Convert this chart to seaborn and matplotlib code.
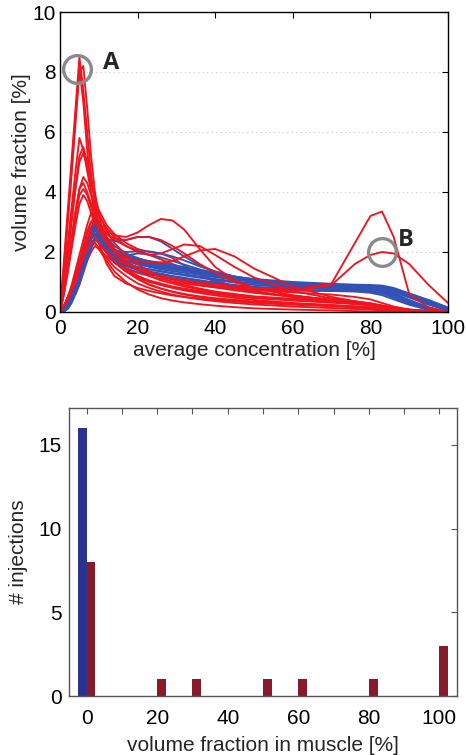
import numpy as np
import pandas as pd
import matplotlib
matplotlib.use("Agg")
import matplotlib.pyplot as plt
import seaborn as sns

sns.set_theme(style="white")
plt.rcParams["font.family"] = ["Liberation Sans", "DejaVu Sans"]

# ---- concentration histograms (volume fraction vs. average concentration) ----
conc = [0, 1, 2, 3, 4, 5, 6, 7, 8, 9, 10, 12, 14, 17, 20, 23, 26, 29, 32, 36,
        40, 45, 50, 60, 70, 76, 80, 83, 86, 90, 95, 100]

# muscle injections, drawn below the fat curves
muscle_low = [
    [0, 1.7, 3.4, 5.1, 6.8, 8.5, 7.4, 6.0, 4.6, 3.6, 2.9, 2.1, 1.7, 1.4, 1.2, 1.05, 0.95, 0.85, 0.78, 0.7, 0.62, 0.55, 0.48, 0.4, 0.33, 0.28, 0.24, 0.18, 0.12, 0.06, 0.02, 0],
    [0, 1.4, 3.0, 4.6, 6.3, 8.0, 8.2, 6.8, 5.2, 4.0, 3.2, 2.3, 1.8, 1.4, 1.1, 0.9, 0.78, 0.68, 0.6, 0.52, 0.46, 0.4, 0.35, 0.28, 0.22, 0.18, 0.15, 0.1, 0.07, 0.03, 0.01, 0],
    [0, 1.5, 3.1, 4.8, 6.5, 8.1, 7.0, 5.4, 4.0, 3.0, 2.3, 1.6, 1.2, 0.95, 0.8, 0.7, 0.62, 0.55, 0.5, 0.45, 0.4, 0.35, 0.3, 0.24, 0.19, 0.15, 0.12, 0.08, 0.05, 0.02, 0, 0],
    [0, 1.1, 2.3, 3.5, 4.7, 5.8, 5.4, 4.7, 4.0, 3.4, 2.9, 2.3, 1.9, 1.6, 1.4, 1.2, 1.05, 0.95, 0.85, 0.75, 0.65, 0.57, 0.5, 0.42, 0.35, 0.3, 0.25, 0.19, 0.13, 0.07, 0.02, 0],
    [0, 0.6, 1.3, 2.1, 2.9, 3.6, 3.9, 3.7, 3.3, 2.9, 2.5, 2.0, 1.65, 1.35, 1.15, 1.0, 0.9, 0.82, 0.75, 0.67, 0.6, 0.52, 0.46, 0.38, 0.31, 0.26, 0.22, 0.16, 0.1, 0.05, 0.02, 0],
    [0, 0.1, 0.3, 0.5, 0.8, 1.1, 1.5, 1.9, 2.2, 2.3, 2.15, 1.8, 1.5, 1.2, 0.95, 0.8, 0.68, 0.58, 0.5, 0.42, 0.36, 0.3, 0.25, 0.18, 0.13, 0.1, 0.08, 0.05, 0.03, 0.01, 0, 0],
    [0, 0.05, 0.2, 0.4, 0.6, 0.9, 1.3, 1.7, 2.0, 2.2, 2.1, 1.7, 1.35, 1.0, 0.75, 0.58, 0.46, 0.38, 0.32, 0.26, 0.21, 0.16, 0.12, 0.08, 0.05, 0.03, 0.02, 0.01, 0, 0, 0, 0],
    [0, 0.1, 0.4, 0.7, 1.0, 1.4, 1.8, 2.2, 2.5, 2.6, 2.5, 2.1, 1.8, 1.45, 1.2, 1.02, 0.9, 0.8, 0.72, 0.63, 0.55, 0.47, 0.4, 0.3, 0.23, 0.18, 0.15, 0.1, 0.06, 0.03, 0.01, 0],
    [0, 0.1, 0.3, 0.6, 0.9, 1.3, 1.7, 2.1, 2.35, 2.4, 2.3, 1.95, 1.65, 1.35, 1.1, 0.92, 0.78, 0.67, 0.58, 0.5, 0.44, 0.38, 0.33, 0.27, 0.22, 0.18, 0.15, 0.11, 0.07, 0.03, 0.01, 0],
    [0, 0.8, 1.9, 3.0, 4.1, 5.0, 5.3, 4.9, 4.3, 3.8, 3.4, 2.9, 2.6, 2.3, 2.1, 2.0, 1.95, 1.8, 1.55, 1.25, 1.0, 0.8, 0.65, 0.5, 0.38, 0.3, 0.25, 0.18, 0.12, 0.06, 0.02, 0],
    [0, 0.7, 1.6, 2.5, 3.4, 4.1, 4.3, 4.0, 3.6, 3.2, 2.9, 2.6, 2.4, 2.2, 2.05, 1.9, 1.75, 1.6, 1.45, 1.25, 1.05, 0.85, 0.7, 0.5, 0.36, 0.28, 0.22, 0.16, 0.1, 0.05, 0.02, 0],
]

# fat injections
fat_curves = [
    [0, 0.05, 0.2, 0.5, 0.9, 1.3, 1.7, 2.2, 2.6, 2.9, 2.8, 2.3, 2.0, 1.8, 1.7, 1.62, 1.55, 1.48, 1.42, 1.33, 1.25, 1.15, 1.07, 0.95, 0.88, 0.85, 0.82, 0.75, 0.6, 0.35, 0.12, 0],
    [0, 0.03, 0.15, 0.4, 0.8, 1.2, 1.7, 2.3, 2.8, 3.1, 2.95, 2.4, 2.05, 1.8, 1.65, 1.55, 1.48, 1.42, 1.37, 1.3, 1.22, 1.12, 1.03, 0.92, 0.86, 0.84, 0.82, 0.78, 0.7, 0.5, 0.25, 0.06],
    [0, 0.1, 0.35, 0.7, 1.1, 1.5, 1.9, 2.3, 2.6, 2.8, 2.7, 2.45, 2.35, 2.4, 2.5, 2.5, 2.35, 2.1, 1.85, 1.55, 1.35, 1.18, 1.05, 0.92, 0.86, 0.83, 0.8, 0.72, 0.58, 0.34, 0.12, 0],
    [0, 0.05, 0.25, 0.55, 0.9, 1.3, 1.7, 2.1, 2.45, 2.6, 2.5, 2.2, 2.05, 2.0, 2.02, 2.02, 1.95, 1.85, 1.72, 1.52, 1.35, 1.18, 1.05, 0.92, 0.86, 0.82, 0.78, 0.7, 0.55, 0.32, 0.1, 0],
    [0, 0.05, 0.25, 0.55, 0.95, 1.35, 1.75, 2.15, 2.5, 2.7, 2.6, 2.15, 1.85, 1.62, 1.5, 1.42, 1.36, 1.3, 1.25, 1.18, 1.1, 1.02, 0.95, 0.85, 0.8, 0.78, 0.75, 0.68, 0.52, 0.3, 0.1, 0],
    [0, 0.02, 0.12, 0.35, 0.7, 1.05, 1.45, 1.85, 2.2, 2.5, 2.45, 2.15, 1.9, 1.72, 1.62, 1.55, 1.48, 1.42, 1.37, 1.3, 1.22, 1.13, 1.05, 0.94, 0.88, 0.87, 0.86, 0.83, 0.76, 0.6, 0.38, 0.12],
    [0, 0.1, 0.35, 0.75, 1.15, 1.55, 1.95, 2.4, 2.8, 3.0, 2.8, 2.2, 1.85, 1.62, 1.5, 1.42, 1.35, 1.28, 1.22, 1.14, 1.06, 0.98, 0.9, 0.82, 0.8, 0.78, 0.74, 0.65, 0.5, 0.28, 0.08, 0],
    [0, 0.03, 0.18, 0.45, 0.85, 1.25, 1.7, 2.2, 2.6, 2.8, 2.7, 2.2, 1.9, 1.7, 1.58, 1.52, 1.47, 1.43, 1.38, 1.3, 1.2, 1.1, 1.0, 0.9, 0.85, 0.82, 0.8, 0.76, 0.66, 0.48, 0.25, 0.05],
    [0, 0.06, 0.25, 0.55, 0.95, 1.3, 1.7, 2.1, 2.45, 2.6, 2.45, 2.05, 1.75, 1.55, 1.43, 1.35, 1.28, 1.2, 1.14, 1.06, 0.98, 0.9, 0.84, 0.78, 0.76, 0.74, 0.7, 0.62, 0.48, 0.27, 0.08, 0],
    [0, 0.1, 0.4, 0.8, 1.2, 1.6, 1.95, 2.35, 2.7, 2.9, 2.85, 2.5, 2.2, 1.95, 1.8, 1.68, 1.58, 1.5, 1.43, 1.33, 1.24, 1.14, 1.05, 0.95, 0.9, 0.88, 0.86, 0.82, 0.74, 0.56, 0.33, 0.1],
    [0, 0.02, 0.15, 0.4, 0.75, 1.15, 1.6, 2.05, 2.45, 2.7, 2.65, 2.3, 2.0, 1.8, 1.68, 1.6, 1.53, 1.46, 1.4, 1.33, 1.25, 1.16, 1.08, 0.97, 0.92, 0.91, 0.9, 0.88, 0.8, 0.62, 0.4, 0.15],
    [0, 0.06, 0.28, 0.6, 1.0, 1.4, 1.8, 2.2, 2.55, 2.8, 2.65, 2.1, 1.75, 1.52, 1.4, 1.32, 1.25, 1.18, 1.12, 1.04, 0.96, 0.88, 0.8, 0.72, 0.7, 0.68, 0.64, 0.56, 0.42, 0.24, 0.07, 0],
    [0, 0.08, 0.3, 0.65, 1.05, 1.45, 1.85, 2.3, 2.65, 2.9, 2.75, 2.3, 2.02, 1.85, 1.75, 1.67, 1.6, 1.52, 1.45, 1.37, 1.28, 1.18, 1.1, 1.0, 0.94, 0.9, 0.86, 0.78, 0.62, 0.4, 0.16, 0],
    [0, 0.04, 0.2, 0.5, 0.9, 1.3, 1.75, 2.25, 2.7, 3.0, 2.95, 2.45, 2.1, 1.88, 1.76, 1.7, 1.64, 1.57, 1.5, 1.4, 1.3, 1.18, 1.08, 0.96, 0.9, 0.88, 0.86, 0.83, 0.76, 0.58, 0.36, 0.1],
    [0, 0.02, 0.1, 0.3, 0.6, 0.95, 1.35, 1.75, 2.1, 2.4, 2.35, 2.1, 1.9, 1.88, 1.95, 1.92, 1.82, 1.7, 1.58, 1.42, 1.3, 1.16, 1.06, 0.95, 0.89, 0.86, 0.84, 0.8, 0.7, 0.5, 0.28, 0.06],
    [0, 0.08, 0.3, 0.65, 1.05, 1.45, 1.85, 2.25, 2.6, 2.75, 2.6, 2.05, 1.7, 1.45, 1.33, 1.25, 1.18, 1.12, 1.07, 1.0, 0.93, 0.86, 0.8, 0.72, 0.7, 0.7, 0.68, 0.62, 0.5, 0.3, 0.1, 0],
    [0, 0.05, 0.2, 0.5, 0.85, 1.25, 1.65, 2.05, 2.4, 2.6, 2.55, 2.25, 2.0, 1.8, 1.62, 1.5, 1.42, 1.36, 1.31, 1.24, 1.16, 1.08, 1.0, 0.9, 0.84, 0.82, 0.8, 0.77, 0.7, 0.54, 0.32, 0.08],
]

# muscle injections, drawn above the fat curves
muscle_high = [
    [0, 0.9, 2.0, 3.1, 4.2, 5.2, 5.5, 5.0, 4.4, 3.8, 3.3, 2.7, 2.3, 1.9, 1.6, 1.35, 1.15, 1.0, 0.9, 0.78, 0.68, 0.6, 0.52, 0.44, 0.37, 0.31, 0.26, 0.2, 0.14, 0.08, 0.03, 0],
    [0, 0.6, 1.5, 2.4, 3.3, 4.1, 4.5, 4.3, 3.9, 3.5, 3.2, 2.8, 2.5, 2.2, 2.0, 1.9, 1.95, 2.1, 2.25, 2.2, 1.9, 1.5, 1.15, 0.7, 0.45, 0.35, 0.28, 0.2, 0.13, 0.07, 0.02, 0],
    [0, 0.6, 1.4, 2.3, 3.2, 3.9, 4.1, 3.9, 3.5, 3.1, 2.7, 2.3, 2.0, 1.8, 1.7, 1.65, 1.65, 1.7, 1.85, 2.05, 2.1, 1.85, 1.45, 0.85, 0.5, 0.36, 0.28, 0.2, 0.13, 0.07, 0.02, 0],
    [0, 0.2, 0.5, 0.9, 1.4, 1.9, 2.4, 2.9, 3.3, 3.2, 3.0, 2.7, 2.55, 2.5, 2.65, 2.9, 3.1, 3.05, 2.75, 2.1, 1.5, 1.05, 0.8, 0.55, 0.4, 0.32, 0.26, 0.19, 0.12, 0.06, 0.02, 0],
    [0, 0.2, 0.5, 0.8, 1.2, 1.7, 2.2, 2.7, 3.0, 2.95, 2.8, 2.6, 2.45, 2.4, 2.5, 2.5, 2.4, 2.2, 1.95, 1.6, 1.3, 1.0, 0.8, 0.55, 0.4, 0.32, 0.26, 0.19, 0.12, 0.06, 0.02, 0],
    [0, 0.2, 0.4, 0.7, 1.1, 1.5, 1.9, 2.3, 2.6, 2.5, 2.3, 2.0, 1.8, 1.6, 1.45, 1.3, 1.2, 1.12, 1.05, 0.98, 0.92, 0.86, 0.8, 0.75, 0.95, 2.3, 3.2, 3.35, 2.5, 0.6, 0.15, 0],
    [0, 0.2, 0.4, 0.7, 1.0, 1.4, 1.8, 2.1, 2.35, 2.3, 2.1, 1.85, 1.65, 1.45, 1.3, 1.2, 1.1, 1.02, 0.95, 0.88, 0.82, 0.77, 0.73, 0.7, 0.9, 1.6, 1.9, 2.0, 1.95, 1.6, 0.9, 0.3],
    [0, 0.2, 0.5, 0.8, 1.2, 1.6, 2.1, 2.6, 3.0, 3.2, 3.0, 2.5, 2.1, 1.7, 1.45, 1.3, 1.18, 1.08, 1.0, 0.9, 0.82, 0.72, 0.64, 0.52, 0.42, 0.35, 0.29, 0.22, 0.15, 0.08, 0.03, 0],
    [0, 0.2, 0.4, 0.7, 1.0, 1.4, 1.9, 2.4, 2.8, 3.0, 2.85, 2.4, 2.0, 1.65, 1.42, 1.28, 1.18, 1.1, 1.02, 0.94, 0.87, 0.8, 0.74, 0.65, 0.58, 0.5, 0.42, 0.3, 0.18, 0.08, 0.02, 0],
]

# ---- injection counts per muscle volume-fraction bin ----
muscle_bins = [0, 10, 20, 30, 40, 50, 60, 70, 80, 90, 100]
fat_counts = [16, 0, 0, 0, 0, 0, 0, 0, 0, 0, 0]
muscle_counts = [8, 0, 1, 1, 0, 1, 1, 0, 1, 0, 3]

RED_LINE = "#f0141e"
BLUE_LINE = "#3352b6"
BLUE_BAR = "#2a3490"
RED_BAR = "#881a2c"

fig = plt.figure(figsize=(4.66, 7.55), dpi=100)
fig.patch.set_facecolor("white")

# ------------------------------ top panel ------------------------------
ax1 = fig.add_axes([0.1288, 0.5868, 0.8326, 0.3973])


def to_long(curves, tag):
    rows = []
    for i, c in enumerate(curves):
        for x, y in zip(conc, c):
            rows.append((f"{tag}{i}", x, y))
    return pd.DataFrame(rows, columns=["unit", "conc", "frac"])


for curves, tag, col in [(muscle_low, "ml", RED_LINE),
                         (fat_curves, "f", BLUE_LINE),
                         (muscle_high, "mh", RED_LINE)]:
    sns.lineplot(data=to_long(curves, tag), x="conc", y="frac", units="unit",
                 estimator=None, color=col, lw=1.35, ax=ax1, legend=False, sort=False)

ax1.set_xlim(0, 100)
ax1.set_ylim(0, 10)
ax1.set_xticks(range(0, 101, 20))
ax1.set_yticks(range(0, 11, 2))
for yv in [2, 4, 6, 8]:
    ax1.axhline(yv, color="#c4c4c4", lw=0.8, ls=(0, (1, 3)), zorder=0)

# highlighted peaks
ax1.plot([4.5], [8.1], marker="o", ms=20, mfc="none", mec="#8a8a8a", mew=2.4, zorder=5)
ax1.plot([83], [2.0], marker="o", ms=20, mfc="none", mec="#8a8a8a", mew=2.4, zorder=5)
ax1.text(13.2, 8.3, "A", fontsize=17, fontweight="bold", family="Open Sans",
         ha="center", va="center")
ax1.text(89.2, 2.4, "B", fontsize=17, fontweight="bold", family="Open Sans",
         ha="center", va="center")

ax1.set_xlabel("average concentration [%]", fontsize=15, labelpad=2)
ax1.set_ylabel("volume fraction [%]", fontsize=15, labelpad=1)

# ------------------------------ bottom panel ------------------------------
ax2 = fig.add_axes([0.148, 0.0781, 0.8326, 0.3815])

bars = pd.DataFrame({
    "bin": muscle_bins * 2,
    "count": fat_counts + muscle_counts,
    "group": ["fat"] * len(muscle_bins) + ["muscle"] * len(muscle_bins),
})
sns.barplot(data=bars, x="bin", y="count", hue="group", native_scale=True,
            palette={"fat": BLUE_BAR, "muscle": RED_BAR}, width=0.5,
            saturation=1, ax=ax2, legend=False, linewidth=0)

ax2.set_xlim(-5, 105)
ax2.set_ylim(0, 17.2)
ax2.set_xticks(range(0, 101, 10))
ax2.set_xticklabels([str(v) if v % 20 == 0 else "" for v in range(0, 101, 10)])
ax2.set_yticks([0, 5, 10, 15])
ax2.set_xlabel("volume fraction in muscle [%]", fontsize=15, labelpad=6)
ax2.set_ylabel("# injections", fontsize=15, labelpad=8)

for ax, edge in [(ax1, "black"), (ax2, "#555555")]:
    ax.tick_params(direction="in", length=4, width=0.8, top=True, right=True,
                   labelsize=15, colors=edge, labelcolor="black")
    for s in ax.spines.values():
        s.set_visible(True)
        s.set_color(edge)
        s.set_linewidth(1.0)
    ax.set_facecolor("white")

ax1.tick_params(axis="x", pad=5)
ax1.tick_params(axis="y", pad=3)
ax2.tick_params(axis="x", pad=9)
ax2.tick_params(axis="y", pad=5)

fig.savefig("out.png", dpi=100, facecolor="white")
